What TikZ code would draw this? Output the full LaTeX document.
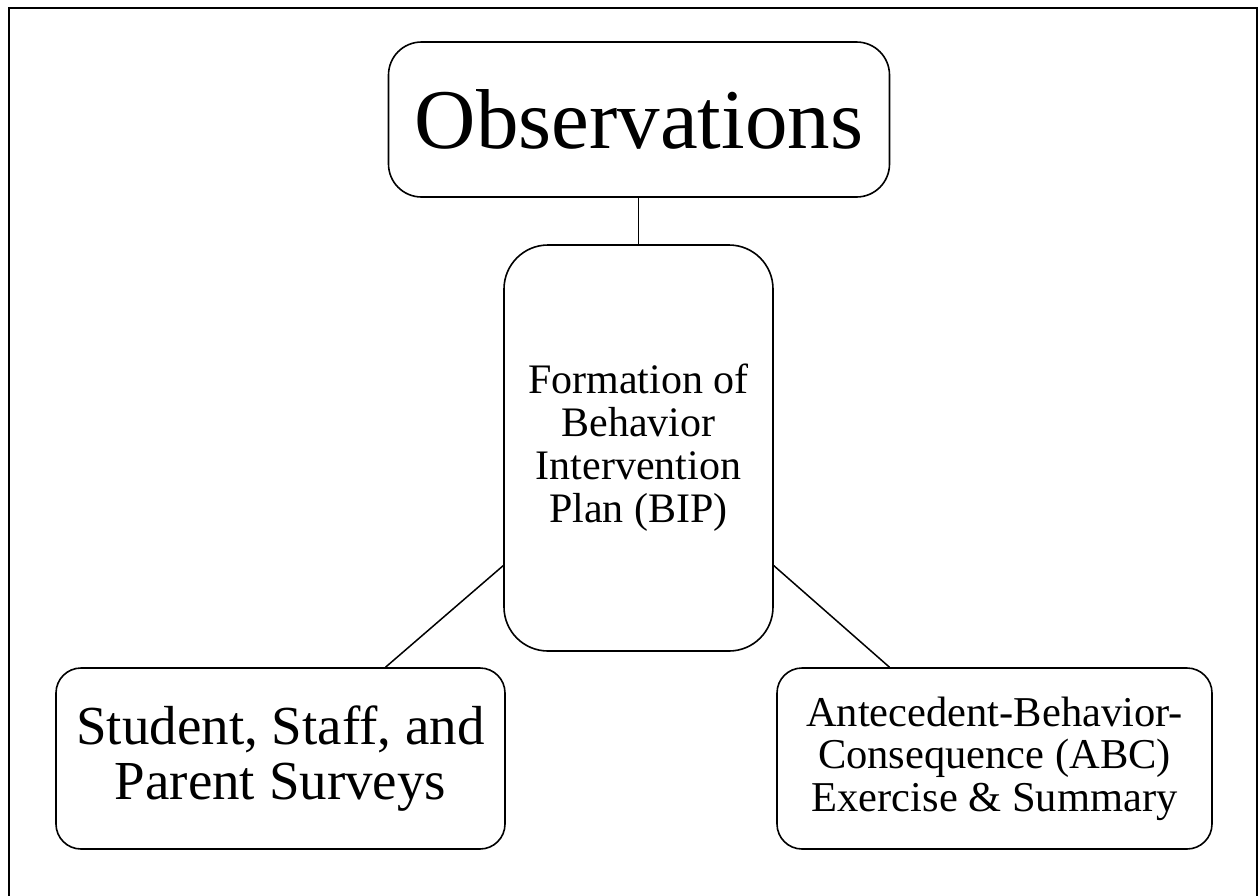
\documentclass[tikz,border=0pt]{standalone}
\usepackage{fontspec}
\setmainfont{Liberation Serif}
\tikzset{x=1pt,y=-1pt,
 box/.style={draw,line width=1.6pt,align=center,inner sep=0pt},
 link/.style={draw,line width=1.5pt},
 }

\begin{document}
\begin{tikzpicture}
    \clip (0,0) rectangle (1258,895);
    \draw[line width=1.5pt] (9,8) rectangle (1257,920);
    \node[box,minimum width=501pt,minimum height=155pt,rounded corners=33pt,
        font=\fontsize{85}{100}\selectfont] (obs) at (639,119.5) {Observations};
    \node[box,minimum width=269pt,minimum height=406pt,rounded corners=44pt,
        font=\fontsize{42}{43}\selectfont] (bip) at (638.5,448)
        {Formation of\\Behavior\\Intervention\\Plan (BIP)};
    \node[box,minimum width=449pt,minimum height=181pt,rounded corners=25pt,
        font=\fontsize{55}{55}\selectfont] (survey) at (280.5,758.5)
        {Student, Staff, and\\Parent Surveys};
    \node[box,minimum width=435pt,minimum height=181pt,rounded corners=25pt,
        font=\fontsize{42.5}{42.5}\selectfont] (abc) at (994.5,758.5)
        {Antecedent-Behavior-\\Consequence (ABC)\\Exercise \& Summary};
    \draw[link] (bip.north) -- (bip.north |- obs.south);
    \draw[link] (bip.221) -- (survey.41);
    \draw[link] (bip.-41) -- (abc.139);
\end{tikzpicture}
\end{document}
